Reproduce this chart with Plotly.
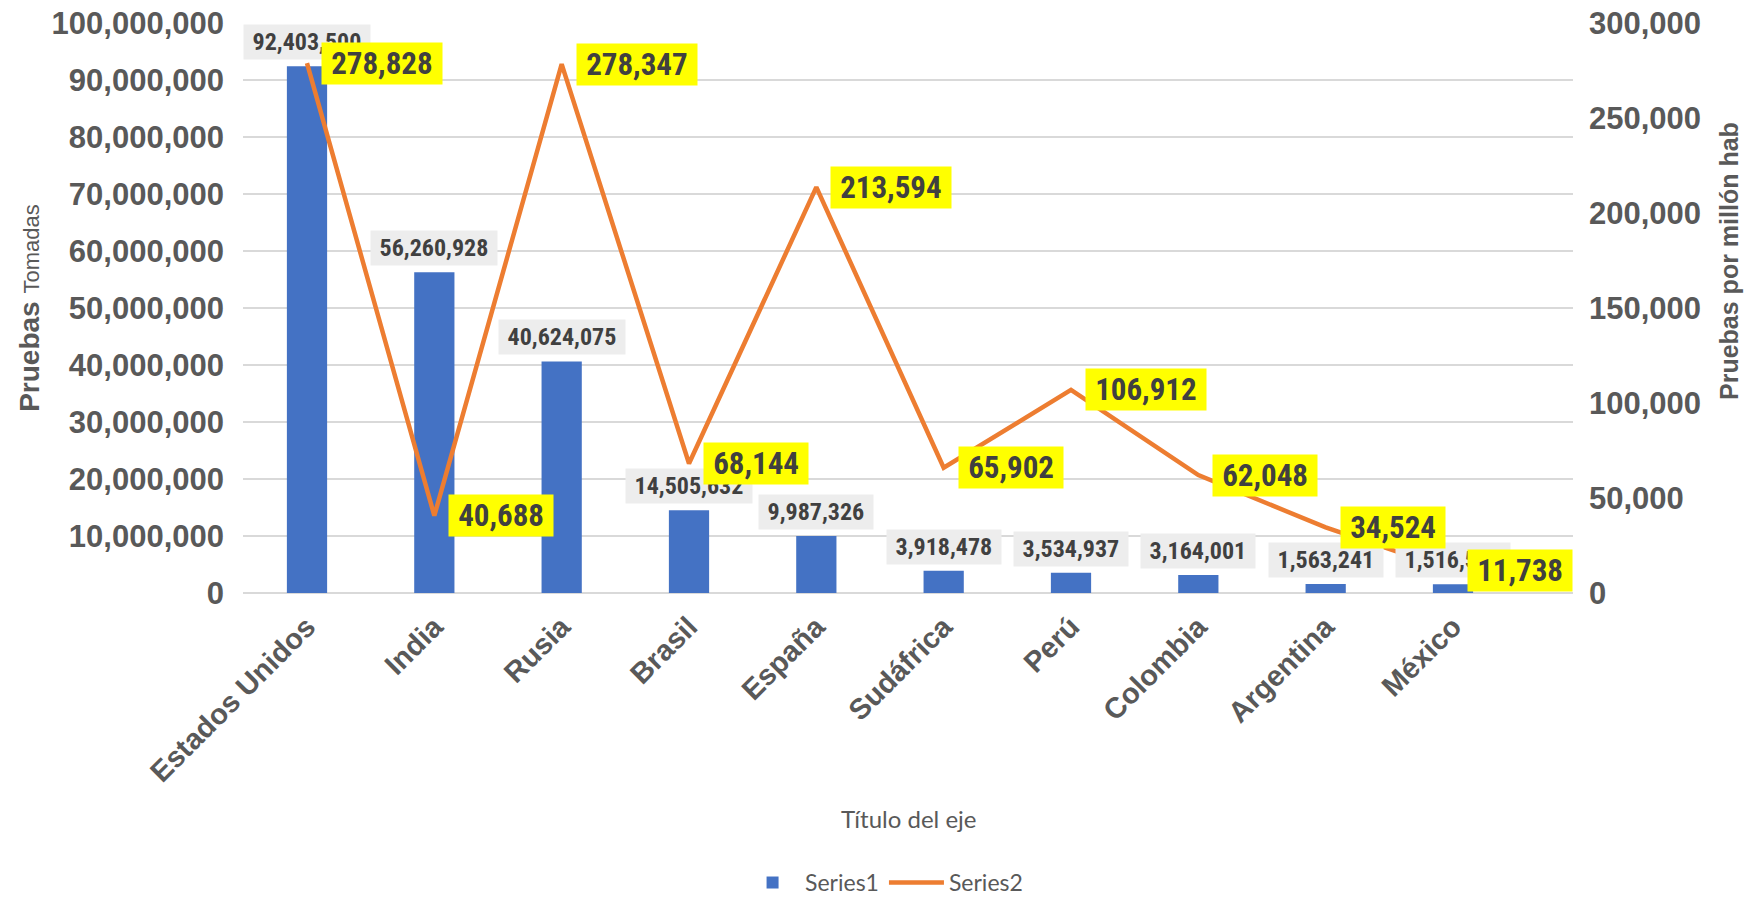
import plotly.graph_objects as go

categories = ["Estados Unidos", "India", "Rusia", "Brasil", "España", "Sudáfrica",
              "Perú", "Colombia", "Argentina", "México"]
pruebas_tomadas = [92403500, 56260928, 40624075, 14505632, 9987326, 3918478,
                   3534937, 3164001, 1563241, 1516566]
pruebas_por_millon = [278828, 40688, 278347, 68144, 213594, 65902,
                      106912, 62048, 34524, 11738]
left_ticks = [0, 10000000, 20000000, 30000000, 40000000, 50000000,
              60000000, 70000000, 80000000, 90000000, 100000000]
right_ticks = [0, 50000, 100000, 150000, 200000, 250000, 300000]

GRAY = "#595959"
DARK = "#404040"
ARIAL = "Liberation Sans, Arial, sans-serif"
NARROW = "Liberation Sans Narrow, Roboto Condensed, DejaVu Sans Condensed, Liberation Sans, sans-serif"
CAL = "Lato, Carlito, Calibri, sans-serif"

fig = go.Figure()
fig.add_trace(go.Bar(
    x=categories, y=pruebas_tomadas, name="Series1",
    marker=dict(color="#4472C4", line=dict(width=0)),
    width=0.316, yaxis="y",
))
fig.add_trace(go.Scatter(
    x=categories, y=pruebas_por_millon, name="Series2", mode="lines",
    line=dict(color="#ED7D31", width=4.5), yaxis="y2",
))

annotations = []
for c, v in zip(categories, pruebas_tomadas):
    annotations.append(dict(
        x=c, y=v, xref="x", yref="y", showarrow=False,
        text=f"&nbsp;<b>{v:,}</b>&nbsp;", bgcolor="#EDEDED",
        font=dict(family=NARROW, size=24, color=DARK),
        xanchor="center", yanchor="bottom", yshift=6, borderpad=3,
    ))
for c, v in zip(categories, pruebas_por_millon):
    annotations.append(dict(
        x=c, y=v, xref="x", yref="y2", showarrow=False,
        text=f"&nbsp;<b>{v:,}</b>&nbsp;", bgcolor="#FFFF00",
        font=dict(family=NARROW, size=31, color=DARK),
        xanchor="left", yanchor="middle", xshift=14, borderpad=2,
    ))
annotations.append(dict(
    x=-0.161, y=0.5, xref="paper", yref="paper", showarrow=False, textangle=-90,
    text="<b>Pruebas</b> <span style='font-size:22px;font-weight:normal'>Tomadas</span>",
    font=dict(family=ARIAL, size=28, color=GRAY), xanchor="center", yanchor="middle",
))
annotations.append(dict(
    x=1.1173, y=0.5825, xref="paper", yref="paper", showarrow=False, textangle=-90,
    text="<b>Pruebas por millón hab</b>",
    font=dict(family=ARIAL, size=25, color=GRAY), xanchor="center", yanchor="middle",
))
annotations.append(dict(
    x=0.5, y=-0.395, xref="paper", yref="paper", showarrow=False,
    text="Título del eje",
    font=dict(family=CAL, size=24, color=GRAY), xanchor="center", yanchor="middle",
))

fig.update_layout(
    width=1751, height=899,
    margin=dict(l=243, r=178, t=23, b=306, autoexpand=False),
    paper_bgcolor="white", plot_bgcolor="white",
    showlegend=True,
    legend=dict(orientation="h", x=0.482, xanchor="center", y=-0.508, yanchor="middle",
                itemwidth=55, font=dict(family=CAL, size=23, color=GRAY)),
    annotations=annotations,
    xaxis=dict(
        tickangle=-45, showgrid=False, showline=False, zeroline=False, automargin=False,
        tickfont=dict(family=ARIAL, size=29, color=GRAY, weight="bold"),
        ticklabelstandoff=10,
    ),
    yaxis=dict(
        range=[0, 100000000], tickvals=left_ticks, tickformat=",", automargin=False,
        showgrid=True, gridcolor="#D9D9D9", gridwidth=1.5,
        zeroline=True, zerolinecolor="#D9D9D9", zerolinewidth=1.5,
        showline=False, ticklabeloverflow="allow",
        tickfont=dict(family=ARIAL, size=31, color=GRAY, weight="bold"),
        ticklabelstandoff=18,
    ),
    yaxis2=dict(
        range=[0, 300000], tickvals=right_ticks, tickformat=",", automargin=False,
        overlaying="y", side="right", showgrid=False, zeroline=False, showline=False,
        ticklabeloverflow="allow",
        tickfont=dict(family=ARIAL, size=31, color=GRAY, weight="bold"),
        ticklabelstandoff=15,
    ),
)

fig.write_html("out.html", config={"displayModeBar": False},
               post_script="document.body.style.margin='0px';")
